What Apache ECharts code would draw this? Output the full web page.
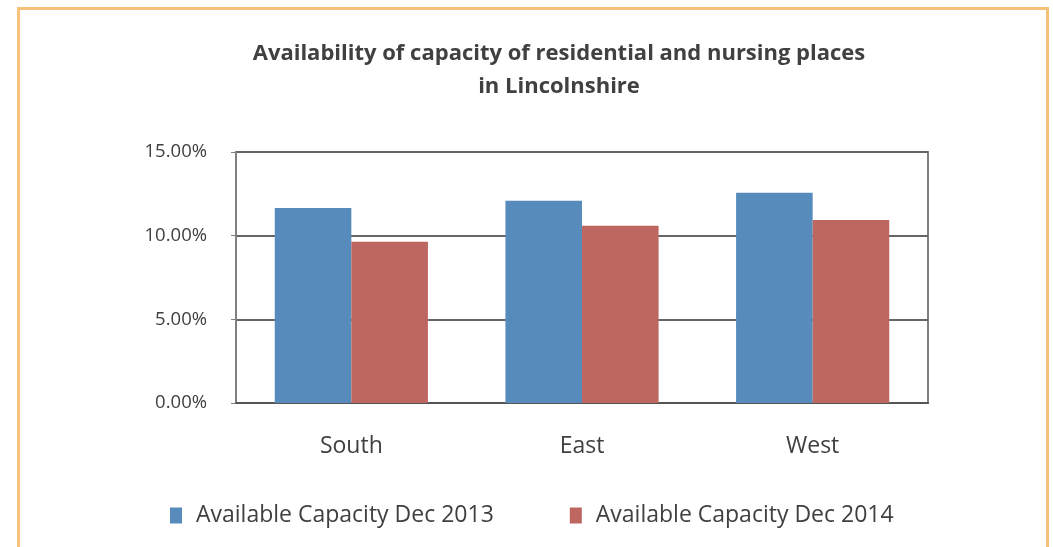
<!DOCTYPE html>
<html>
<head>
<meta charset="utf-8">
<script src="https://cdn.jsdelivr.net/npm/echarts@6/dist/echarts.min.js"></script>
<style>
  html, body { margin: 0; padding: 0; background: #fff; }
  #chart { width: 1053px; height: 547px; }
</style>
</head>
<body>
<div id="chart"></div>
<script>
    // data (percent)
    var regions = ['South', 'East', 'West'];
    var cap2013 = [11.66, 12.08, 12.56];
    var cap2014 = [9.63, 10.59, 10.94];
    var seriesNames = ['Available Capacity Dec 2013', 'Available Capacity Dec 2014'];

    var myChart = echarts.init(document.getElementById('chart'));
    var option = {
        animation: false,
        textStyle: { fontFamily: 'Open Sans' },
        graphic: [
            {
                type: 'rect',
                left: 16, top: 6,
                shape: { width: 1029, height: 600 },
                style: { fill: 'none', stroke: '#f6c27b', lineWidth: 3 }
            }
        ],
        title: {
            text: 'Availability of capacity of residential and nursing places\nin Lincolnshire',
            left: 554,
            top: 32,
            textAlign: 'center',
            textStyle: {
                fontFamily: 'Open Sans',
                fontSize: 22,
                fontWeight: 'bold',
                color: '#404040',
                lineHeight: 33
            }
        },
        legend: {
            data: seriesNames,
            left: 165,
            top: 499,
            itemWidth: 12,
            itemHeight: 16,
            itemGap: 76,
            icon: 'rect',
            textStyle: {
                fontFamily: 'Open Sans',
                fontSize: 23,
                color: '#404040',
                padding: [0, 0, 0, 9]
            }
        },
        grid: {
            left: 236,
            right: 125,
            top: 152,
            bottom: 144,
            show: true,
            borderColor: '#808080',
            borderWidth: 2
        },
        xAxis: {
            type: 'category',
            data: regions,
            axisLine: { lineStyle: { color: '#555', width: 2 } },
            axisTick: { show: false },
            axisLabel: { fontSize: 23, color: '#404040', margin: 32 }
        },
        yAxis: {
            type: 'value',
            min: 0,
            max: 15,
            interval: 5,
            axisLine: { show: true, lineStyle: { color: '#808080', width: 2 } },
            axisTick: { show: true, length: 5, lineStyle: { color: '#808080', width: 1 } },
            splitLine: { lineStyle: { color: '#666', width: 2 } },
            axisLabel: {
                fontSize: 18.5,
                color: '#404040',
                margin: 29,
                formatter: function (v) { return v.toFixed(2) + '%'; }
            }
        },
        series: [
            {
                name: seriesNames[0],
                type: 'bar',
                data: cap2013,
                barGap: '0%',
                barCategoryGap: '33.6%',
                itemStyle: { color: '#568bbb' }
            },
            {
                name: seriesNames[1],
                type: 'bar',
                data: cap2014,
                itemStyle: { color: '#be6660' }
            }
        ]
    };
    myChart.setOption(option);
</script>
</body>
</html>
